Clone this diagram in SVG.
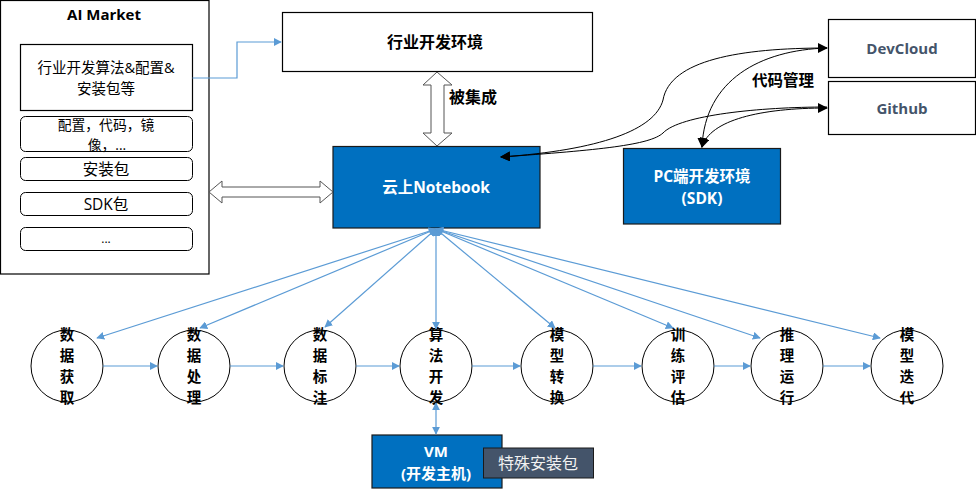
<svg xmlns="http://www.w3.org/2000/svg" width="976" height="490" viewBox="0 0 976 490">
<style>
text{font-family:"Open Sans","Noto Sans CJK SC",sans-serif;text-anchor:middle;dominant-baseline:central}
.box{fill:#fff;stroke:#000;stroke-width:1.2}
.rbox{fill:#fff;stroke:#000;stroke-width:1}
.blue{fill:#0070C0;stroke:#1a1a1a;stroke-width:1.2}
.circ{fill:#fff;stroke:#000;stroke-width:1}
.b{font-weight:bold}
.w{fill:#fff}
.lb{stroke:#5B9BD5;stroke-width:1.2;fill:none}
.lk{stroke:#000;stroke-width:1;fill:none}
.hollow{fill:#fff;stroke:#555;stroke-width:1}
.ct{font-size:14.5px;font-weight:bold}
.it{font-size:15.5px}
</style>
<defs>
<marker id="ab" viewBox="0 0 10 10" refX="9" refY="5" markerWidth="8" markerHeight="8" markerUnits="userSpaceOnUse" orient="auto-start-reverse"><path d="M0,0 L10,5 L0,10 z" fill="#5B9BD5"/></marker>
<marker id="ak" viewBox="0 0 10 10" refX="9" refY="5" markerWidth="10" markerHeight="10" markerUnits="userSpaceOnUse" orient="auto-start-reverse"><path d="M0,0 L10,5 L0,10 z" fill="#000"/></marker>
</defs>

<g id="ai-market">
<rect class="box" x="0.5" y="0.5" width="208.5" height="273.5"/>
<text class="b" x="104" y="14" font-size="15">AI Market</text>
<rect class="box" x="20.5" y="44.5" width="172" height="66"/>
<text x="106" y="67.5" font-size="14.5">行业开发算法&amp;配置&amp;</text>
<text x="106" y="88.5" font-size="14.5">安装包等</text>
<rect class="rbox" x="20.5" y="116.5" width="172" height="35" rx="5"/>
<text x="106" y="124" font-size="13.8">配置，代码，镜</text>
<text x="107" y="144" font-size="13.8">像，...</text>
<rect class="rbox" x="20.5" y="157.5" width="172" height="23" rx="5"/>
<text class="it" x="106" y="169">安装包</text>
<rect class="rbox" x="20.5" y="192.5" width="172" height="23" rx="5"/>
<text class="it" x="106" y="204">SDK包</text>
<rect class="rbox" x="20.5" y="227.5" width="172" height="23" rx="5"/>
<text x="106" y="238" font-size="12">...</text>
</g>

<g id="industry-env">
<rect class="box" x="282.5" y="12.5" width="310" height="59"/>
<text class="b" x="435" y="42" font-size="16">行业开发环境</text>
</g>

<g id="notebook">
<rect class="blue" x="333" y="146.5" width="207" height="81.5"/>
<text class="b w" x="436" y="187" font-size="15.5">云上Notebook</text>
</g>

<g id="pc-env">
<rect class="blue" x="623.5" y="148.5" width="157" height="75.5"/>
<text class="b w" x="702" y="176" font-size="15.5">PC端开发环境</text>
<text class="b w" x="702" y="198" font-size="15.5">(SDK)</text>
</g>

<g id="devcloud">
<rect class="box" x="828.5" y="19.5" width="147" height="58"/>
<text class="b" x="902" y="48" font-size="15" fill="#44546A">DevCloud</text>
</g>

<g id="github">
<rect class="box" x="828.5" y="81.5" width="147" height="53"/>
<text class="b" x="902" y="108" font-size="15" fill="#44546A">Github</text>
</g>

<g id="vm">
<rect class="blue" x="372" y="435" width="130" height="53"/>
<text class="b w" x="436" y="451" font-size="15">VM</text>
<text class="b w" x="436" y="473" font-size="15">(开发主机)</text>
</g>

<g id="special-pkg">
<rect x="483.5" y="448" width="110" height="30" fill="#44546A" stroke="#1a1a1a" stroke-width="1"/>
<text x="538" y="463" font-size="16" fill="#F2F2F2">特殊安装包</text>
</g>

<g id="s1"><circle class="circ" cx="67" cy="366" r="36"/><text class="ct" x="67" y="334.5">数</text><text class="ct" x="67" y="355.5">据</text><text class="ct" x="67" y="376.5">获</text><text class="ct" x="67" y="397.5">取</text></g>
<g id="s2"><circle class="circ" cx="194" cy="366" r="36"/><text class="ct" x="194" y="334.5">数</text><text class="ct" x="194" y="355.5">据</text><text class="ct" x="194" y="376.5">处</text><text class="ct" x="194" y="397.5">理</text></g>
<g id="s3"><circle class="circ" cx="320" cy="366" r="36"/><text class="ct" x="320" y="334.5">数</text><text class="ct" x="320" y="355.5">据</text><text class="ct" x="320" y="376.5">标</text><text class="ct" x="320" y="397.5">注</text></g>
<g id="s4"><circle class="circ" cx="436" cy="366" r="36"/><text class="ct" x="436" y="334.5">算</text><text class="ct" x="436" y="355.5">法</text><text class="ct" x="436" y="376.5">开</text><text class="ct" x="436" y="397.5">发</text></g>
<g id="s5"><circle class="circ" cx="557" cy="366" r="36"/><text class="ct" x="557" y="334.5">模</text><text class="ct" x="557" y="355.5">型</text><text class="ct" x="557" y="376.5">转</text><text class="ct" x="557" y="397.5">换</text></g>
<g id="s6"><circle class="circ" cx="678" cy="366" r="36"/><text class="ct" x="678" y="334.5">训</text><text class="ct" x="678" y="355.5">练</text><text class="ct" x="678" y="376.5">评</text><text class="ct" x="678" y="397.5">估</text></g>
<g id="s7"><circle class="circ" cx="787" cy="366" r="36"/><text class="ct" x="787" y="334.5">推</text><text class="ct" x="787" y="355.5">理</text><text class="ct" x="787" y="376.5">运</text><text class="ct" x="787" y="397.5">行</text></g>
<g id="s8"><circle class="circ" cx="907" cy="366" r="36"/><text class="ct" x="907" y="334.5">模</text><text class="ct" x="907" y="355.5">型</text><text class="ct" x="907" y="376.5">迭</text><text class="ct" x="907" y="397.5">代</text></g>

<g id="connectors">
<path class="lb" d="M192.5,78 H237 V42 H281" marker-end="url(#ab)"/>
<path class="hollow" d="M209,192 L222,181 L222,187 L320,187 L320,181 L333,192 L320,203 L320,197 L222,197 L222,203 Z"/>
<path class="hollow" d="M437,72 L452,85 L444,85 L444,133 L452,133 L437,146 L423,133 L431,133 L431,85 L423,85 Z"/>
<text class="b" x="473" y="97" font-size="16">被集成</text>
<text class="b" x="783" y="80" font-size="15.5">代码管理</text>

<path class="lk" d="M827,48 C740,48 670,60 663,100 C655,130 600,150 501,157" marker-start="url(#ak)" marker-end="url(#ak)"/>
<path class="lk" d="M827,107 C760,107 680,115 663,133 C650,145 600,150 501,157" marker-end="url(#ak)"/>
<path class="lk" d="M827,48 C760,50 705,80 702,147" marker-end="url(#ak)"/>
<path class="lk" d="M827,108 C760,108 710,120 702,147" marker-start="url(#ak)" marker-end="url(#ak)"/>

<path class="lb" d="M436,229 L97,338" marker-start="url(#ab)" marker-end="url(#ab)"/>
<path class="lb" d="M436,229 L200,328" marker-start="url(#ab)" marker-end="url(#ab)"/>
<path class="lb" d="M436,229 L325,327" marker-start="url(#ab)" marker-end="url(#ab)"/>
<path class="lb" d="M436,229 L436,329" marker-start="url(#ab)" marker-end="url(#ab)"/>
<path class="lb" d="M436,229 L555,328" marker-start="url(#ab)" marker-end="url(#ab)"/>
<path class="lb" d="M436,229 L673,328" marker-start="url(#ab)" marker-end="url(#ab)"/>
<path class="lb" d="M436,229 L760,338" marker-start="url(#ab)" marker-end="url(#ab)"/>
<path class="lb" d="M436,229 L880,338" marker-start="url(#ab)" marker-end="url(#ab)"/>

<path class="lb" d="M103,366 H157" marker-end="url(#ab)"/>
<path class="lb" d="M230,366 H283" marker-end="url(#ab)"/>
<path class="lb" d="M356,366 H399" marker-end="url(#ab)"/>
<path class="lb" d="M472,366 H520" marker-end="url(#ab)"/>
<path class="lb" d="M593,366 H641" marker-end="url(#ab)"/>
<path class="lb" d="M714,366 H750" marker-end="url(#ab)"/>
<path class="lb" d="M823,366 H870" marker-end="url(#ab)"/>
<path class="lb" d="M436,403 V434" marker-start="url(#ab)" marker-end="url(#ab)"/>
</g>
</svg>
